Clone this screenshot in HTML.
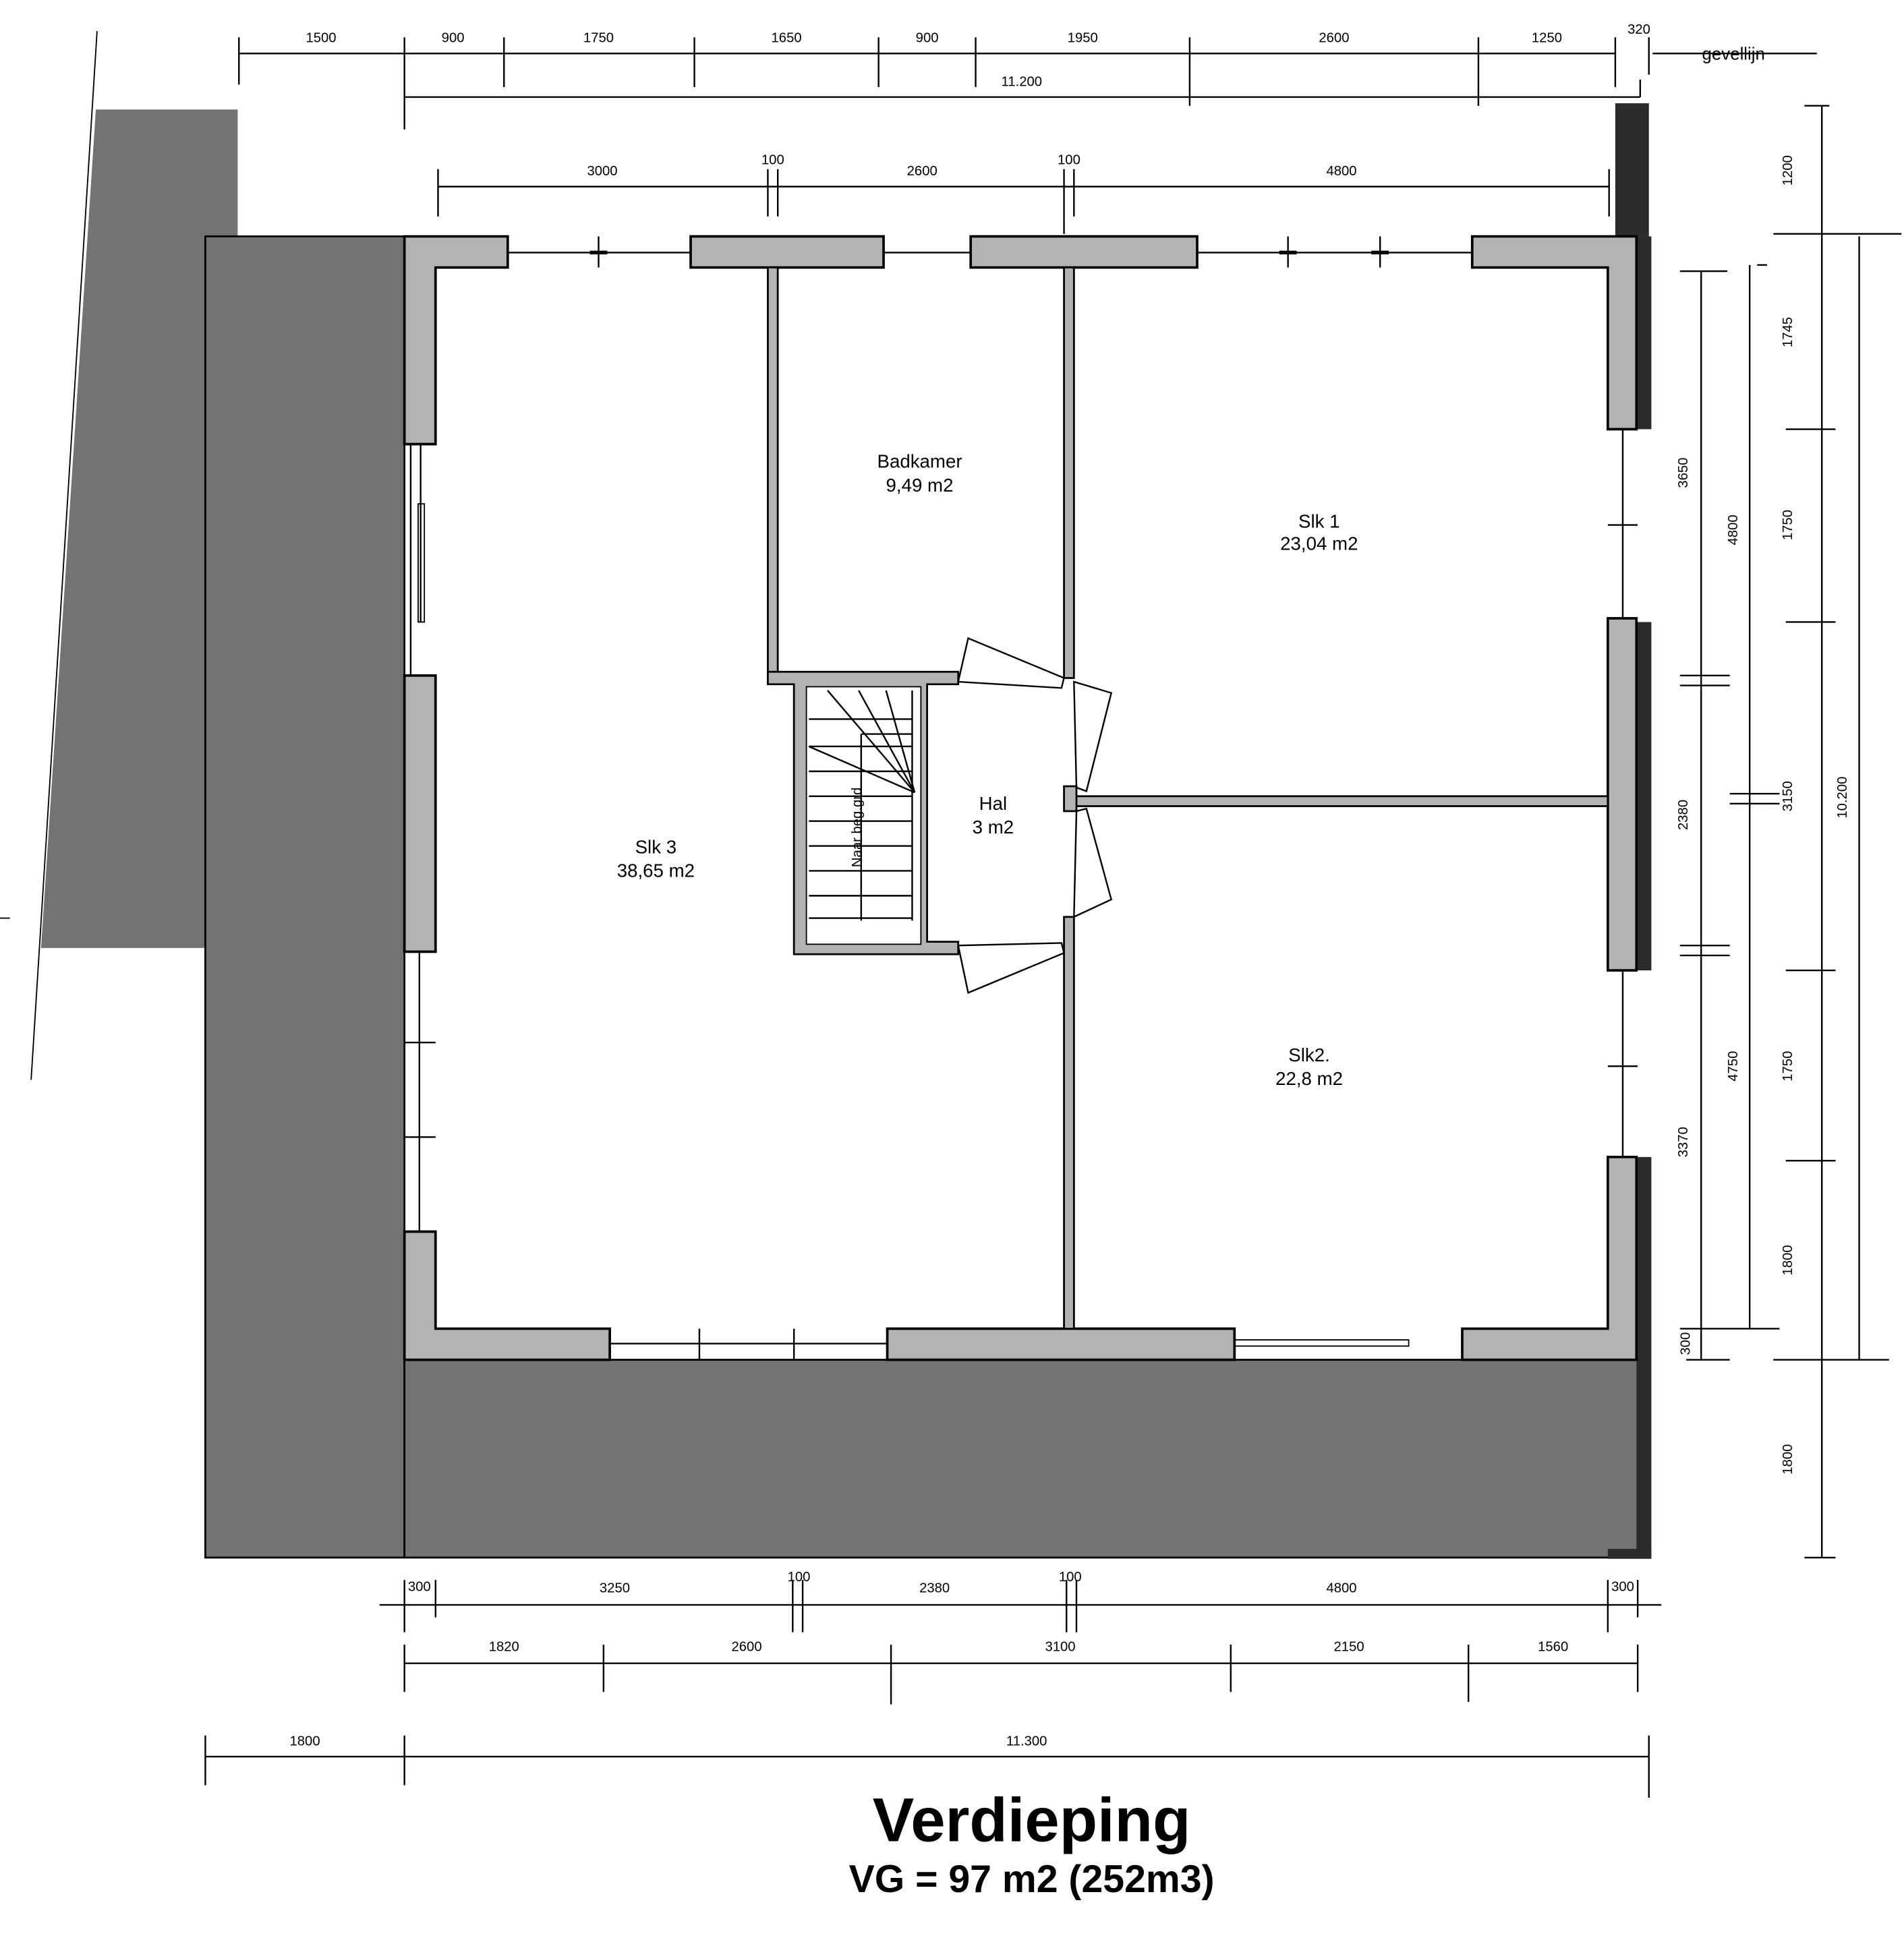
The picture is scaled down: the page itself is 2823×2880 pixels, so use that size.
<!DOCTYPE html>
<html><head><meta charset="utf-8"><style>
html,body{margin:0;padding:0;background:#fff}
svg{display:block}
text{font-family:"Liberation Sans",sans-serif;fill:#000}
.d{font-size:11px;text-anchor:middle}
.r{font-size:15px;text-anchor:middle}
.w{fill:#b3b3b3;stroke:#000;stroke-width:2}
.iw{fill:#b3b3b3;stroke:#000;stroke-width:1.5}
.l{stroke:#000;stroke-width:1.3;fill:none}
.t{stroke:#000;stroke-width:1.3}
</style></head><body>
<svg width="2823" height="2880" viewBox="0 0 1530 1561" preserveAspectRatio="none" xmlns="http://www.w3.org/2000/svg">
<defs>
<marker id="a" viewBox="0 0 10 10" refX="10" refY="5" markerWidth="7" markerHeight="7" orient="auto-start-reverse"><path d="M0,2 L10,5 L0,8z" fill="#000"/></marker>
</defs>
<!-- grey masses -->
<polygon points="77,88 191,88 191,190 165,190 165,762 33,762" fill="#737373"/>
<line x1="78" y1="25" x2="25" y2="868" stroke="#000" stroke-width="1"/>
<line x1="0" y1="738" x2="8" y2="738" stroke="#000"/>
<rect x="165" y="190" width="160" height="1062" fill="#737373" stroke="#000" stroke-width="1.5"/>
<rect x="325" y="1093" width="993" height="159" fill="#737373" stroke="#000" stroke-width="1.5"/>
<rect x="1298" y="83" width="27" height="107" fill="#2b2b2b"/>
<rect x="1315" y="190" width="12" height="155" fill="#2b2b2b"/>
<rect x="1315" y="500" width="12" height="280" fill="#2b2b2b"/>
<rect x="1315" y="930" width="12" height="322" fill="#2b2b2b"/>
<rect x="1292" y="1245" width="35" height="8" fill="#2b2b2b"/>
<!-- exterior walls -->
<polygon class="w" points="325,190 408,190 408,215 350,215 350,357 325,357"/>
<rect class="w" x="555" y="190" width="155" height="25"/>
<rect class="w" x="780" y="190" width="182" height="25"/>
<polygon class="w" points="1183,190 1315,190 1315,345 1292,345 1292,215 1183,215"/>
<rect class="w" x="1292" y="497" width="23" height="283"/>
<polygon class="w" points="1292,930 1315,930 1315,1093 1175,1093 1175,1068 1292,1068"/>
<rect class="w" x="325" y="543" width="25" height="222"/>
<polygon class="w" points="325,990 350,990 350,1068 490,1068 490,1093 325,1093"/>
<rect class="w" x="713" y="1068" width="279" height="25"/>
<!-- windows top -->
<line class="t" x1="408" y1="203" x2="555" y2="203"/><line class="t" x1="710" y1="203" x2="780" y2="203"/>
<line class="t" x1="962" y1="203" x2="1183" y2="203"/>
<g class="t"><line x1="481" y1="190" x2="481" y2="215"/><line x1="1035" y1="190" x2="1035" y2="215"/><line x1="1109" y1="190" x2="1109" y2="215"/><line x1="474" y1="203" x2="488" y2="203" stroke-width="3"/><line x1="1028" y1="203" x2="1042" y2="203" stroke-width="3"/><line x1="1102" y1="203" x2="1116" y2="203" stroke-width="3"/></g>
<!-- windows right -->
<line class="t" x1="1304" y1="345" x2="1304" y2="497"/><line class="t" x1="1304" y1="780" x2="1304" y2="930"/>
<g class="t"><line x1="1292" y1="422" x2="1316" y2="422"/><line x1="1292" y1="857" x2="1316" y2="857"/></g>
<!-- windows left -->
<line class="t" x1="330" y1="357" x2="330" y2="543"/><line class="t" x1="338" y1="357" x2="338" y2="500"/><rect x="336" y="405" width="5" height="95" fill="none" stroke="#000"/>
<line class="t" x1="337" y1="765" x2="337" y2="990"/>
<g class="t"><line x1="325" y1="838" x2="350" y2="838"/><line x1="325" y1="914" x2="350" y2="914"/></g>
<!-- windows bottom -->
<line class="t" x1="490" y1="1080" x2="713" y2="1080"/>
<g class="t"><line x1="562" y1="1068" x2="562" y2="1093"/><line x1="638" y1="1068" x2="638" y2="1093"/></g>
<rect x="992" y="1077" width="140" height="5" fill="none" stroke="#000"/>
<!-- interior walls -->
<rect class="iw" x="617" y="215" width="8" height="333"/>
<rect class="iw" x="855" y="215" width="8" height="330"/>
<rect class="iw" x="855" y="737" width="8" height="331"/>
<rect class="iw" x="863" y="640" width="429" height="8"/>
<rect class="iw" x="855" y="632" width="10" height="20"/>
<!-- stair -->
<polygon class="iw" points="617,540 770,540 770,550 745,550 745,757 770,757 770,767 638,767 638,550 617,550"/>
<rect x="648" y="552" width="92" height="207" fill="#fff" stroke="#000"/>
<g class="l"><line x1="650" y1="578" x2="733" y2="578"/><line x1="650" y1="600" x2="733" y2="600"/><line x1="650" y1="620" x2="733" y2="620"/><line x1="650" y1="640" x2="733" y2="640"/><line x1="650" y1="660" x2="733" y2="660"/><line x1="650" y1="680" x2="733" y2="680"/><line x1="650" y1="700" x2="733" y2="700"/><line x1="650" y1="720" x2="733" y2="720"/><line x1="650" y1="738" x2="733" y2="738"/>
<line x1="665" y1="555" x2="735" y2="637"/><line x1="690" y1="555" x2="735" y2="637"/><line x1="712" y1="555" x2="735" y2="637"/><line x1="650" y1="600" x2="735" y2="637"/><line x1="692" y1="590" x2="692" y2="740"/><line x1="692" y1="590" x2="733" y2="590"/><line x1="733" y1="555" x2="733" y2="740"/></g>
<text x="692" y="665" font-size="11" text-anchor="middle" transform="rotate(-90 692 665)">Naar beg.grd</text>
<!-- doors -->
<g class="l"><polygon points="770,548 778,513 855,545 853,553"/><polygon points="863,548 893,557 873,636 865,633"/><polygon points="863,737 893,723 873,650 865,652"/><polygon points="770,760 778,798 855,766 853,758"/></g>
<!-- labels -->
<text class="r" x="739" y="376">Badkamer</text><text class="r" x="739" y="395">9,49 m2</text>
<text class="r" x="1060" y="424">Slk 1</text><text class="r" x="1060" y="442">23,04 m2</text>
<text class="r" x="527" y="686">Slk 3</text><text class="r" x="527" y="705">38,65 m2</text>
<text class="r" x="798" y="651">Hal</text><text class="r" x="798" y="670">3 m2</text>
<text class="r" x="1052" y="853">Slk2.</text><text class="r" x="1052" y="872">22,8 m2</text>
<!-- top dims -->
<g class="l">
<line x1="192" y1="43" x2="1298" y2="43"/>
<line x1="192" y1="30" x2="192" y2="68"/><line x1="325" y1="30" x2="325" y2="104"/><line x1="405" y1="30" x2="405" y2="70"/><line x1="558" y1="30" x2="558" y2="70"/><line x1="706" y1="30" x2="706" y2="70"/><line x1="784" y1="30" x2="784" y2="70"/><line x1="956" y1="30" x2="956" y2="85"/><line x1="1188" y1="30" x2="1188" y2="85"/><line x1="1298" y1="30" x2="1298" y2="70"/>
<line x1="1328" y1="43" x2="1460" y2="43"/><line x1="1325" y1="30" x2="1325" y2="60"/>
<line x1="325" y1="78" x2="1318" y2="78"/><line x1="1318" y1="64" x2="1318" y2="78"/>
<line x1="352" y1="150" x2="1293" y2="150"/>
<line x1="352" y1="136" x2="352" y2="174"/><line x1="617" y1="136" x2="617" y2="174"/><line x1="625" y1="136" x2="625" y2="174"/><line x1="855" y1="136" x2="855" y2="188"/><line x1="863" y1="136" x2="863" y2="174"/><line x1="1293" y1="136" x2="1293" y2="174"/>
</g>
<g class="d">
<text x="258" y="34">1500</text><text x="364" y="34">900</text><text x="481" y="34">1750</text><text x="632" y="34">1650</text><text x="745" y="34">900</text><text x="870" y="34">1950</text><text x="1072" y="34">2600</text><text x="1243" y="34">1250</text><text x="1317" y="27">320</text>
<text x="821" y="69">11.200</text>
<text x="484" y="141">3000</text><text x="621" y="132">100</text><text x="741" y="141">2600</text><text x="859" y="132">100</text><text x="1078" y="141">4800</text>
</g>
<text x="1393" y="48" font-size="14" text-anchor="middle">gevellijn</text>
<!-- bottom dims -->
<g class="l">
<line x1="305" y1="1290" x2="1335" y2="1290"/>
<line x1="325" y1="1270" x2="325" y2="1312"/><line x1="350" y1="1270" x2="350" y2="1300"/><line x1="637" y1="1270" x2="637" y2="1312"/><line x1="645" y1="1270" x2="645" y2="1312"/><line x1="857" y1="1270" x2="857" y2="1312"/><line x1="865" y1="1270" x2="865" y2="1312"/><line x1="1292" y1="1270" x2="1292" y2="1312"/><line x1="1316" y1="1270" x2="1316" y2="1300"/>
<line x1="325" y1="1337" x2="1316" y2="1337"/>
<line x1="325" y1="1322" x2="325" y2="1360"/><line x1="485" y1="1322" x2="485" y2="1360"/><line x1="716" y1="1322" x2="716" y2="1370"/><line x1="989" y1="1322" x2="989" y2="1360"/><line x1="1180" y1="1322" x2="1180" y2="1368"/><line x1="1316" y1="1322" x2="1316" y2="1360"/>
<line x1="165" y1="1412" x2="1325" y2="1412"/>
<line x1="165" y1="1395" x2="165" y2="1435"/><line x1="325" y1="1395" x2="325" y2="1435"/><line x1="1325" y1="1395" x2="1325" y2="1445"/>
</g>
<g class="d">
<text x="337" y="1279">300</text><text x="494" y="1280">3250</text><text x="642" y="1271">100</text><text x="751" y="1280">2380</text><text x="860" y="1271">100</text><text x="1078" y="1280">4800</text><text x="1304" y="1279">300</text>
<text x="405" y="1327">1820</text><text x="600" y="1327">2600</text><text x="852" y="1327">3100</text><text x="1084" y="1327">2150</text><text x="1248" y="1327">1560</text>
<text x="245" y="1403">1800</text><text x="825" y="1403">11.300</text>
</g>
<!-- right dims -->
<g class="l">
<line x1="1464" y1="85" x2="1464" y2="1252"/>
<line x1="1450" y1="85" x2="1470" y2="85"/><line x1="1425" y1="188" x2="1528" y2="188"/><line x1="1435" y1="345" x2="1475" y2="345"/><line x1="1435" y1="500" x2="1475" y2="500"/><line x1="1435" y1="780" x2="1475" y2="780"/><line x1="1435" y1="933" x2="1475" y2="933"/><line x1="1425" y1="1093" x2="1518" y2="1093"/><line x1="1450" y1="1252" x2="1475" y2="1252"/>
<line x1="1494" y1="190" x2="1494" y2="1093"/>
<line x1="1367" y1="218" x2="1367" y2="1068"/>
<line x1="1350" y1="218" x2="1388" y2="218"/><line x1="1350" y1="543" x2="1390" y2="543"/><line x1="1350" y1="551" x2="1390" y2="551"/><line x1="1350" y1="760" x2="1390" y2="760"/><line x1="1350" y1="768" x2="1390" y2="768"/><line x1="1350" y1="1068" x2="1430" y2="1068"/>
<line x1="1406" y1="213" x2="1406" y2="1068"/>
<line x1="1390" y1="638" x2="1430" y2="638"/><line x1="1390" y1="646" x2="1430" y2="646"/><line x1="1412" y1="213" x2="1420" y2="213"/>
<line x1="1367" y1="1068" x2="1367" y2="1093"/><line x1="1355" y1="1093" x2="1390" y2="1093"/>
</g>
<g class="d">
<text transform="translate(1440,137) rotate(-90)">1200</text><text transform="translate(1440,267) rotate(-90)">1745</text><text transform="translate(1440,422) rotate(-90)">1750</text><text transform="translate(1440,640) rotate(-90)">3150</text><text transform="translate(1440,857) rotate(-90)">1750</text><text transform="translate(1440,1013) rotate(-90)">1800</text><text transform="translate(1440,1173) rotate(-90)">1800</text>
<text transform="translate(1484,641) rotate(-90)">10.200</text>
<text transform="translate(1356,380) rotate(-90)">3650</text><text transform="translate(1356,655) rotate(-90)">2380</text><text transform="translate(1356,918) rotate(-90)">3370</text><text transform="translate(1358,1080) rotate(-90)">300</text>
<text transform="translate(1396,426) rotate(-90)">4800</text><text transform="translate(1396,857) rotate(-90)">4750</text>
</g>
<!-- title -->
<text x="829" y="1480" font-size="50" font-weight="bold" text-anchor="middle">Verdieping</text>
<text x="829" y="1521" font-size="31" font-weight="bold" text-anchor="middle">VG = 97 m2 (252m3)</text>
</svg>
</body></html>
